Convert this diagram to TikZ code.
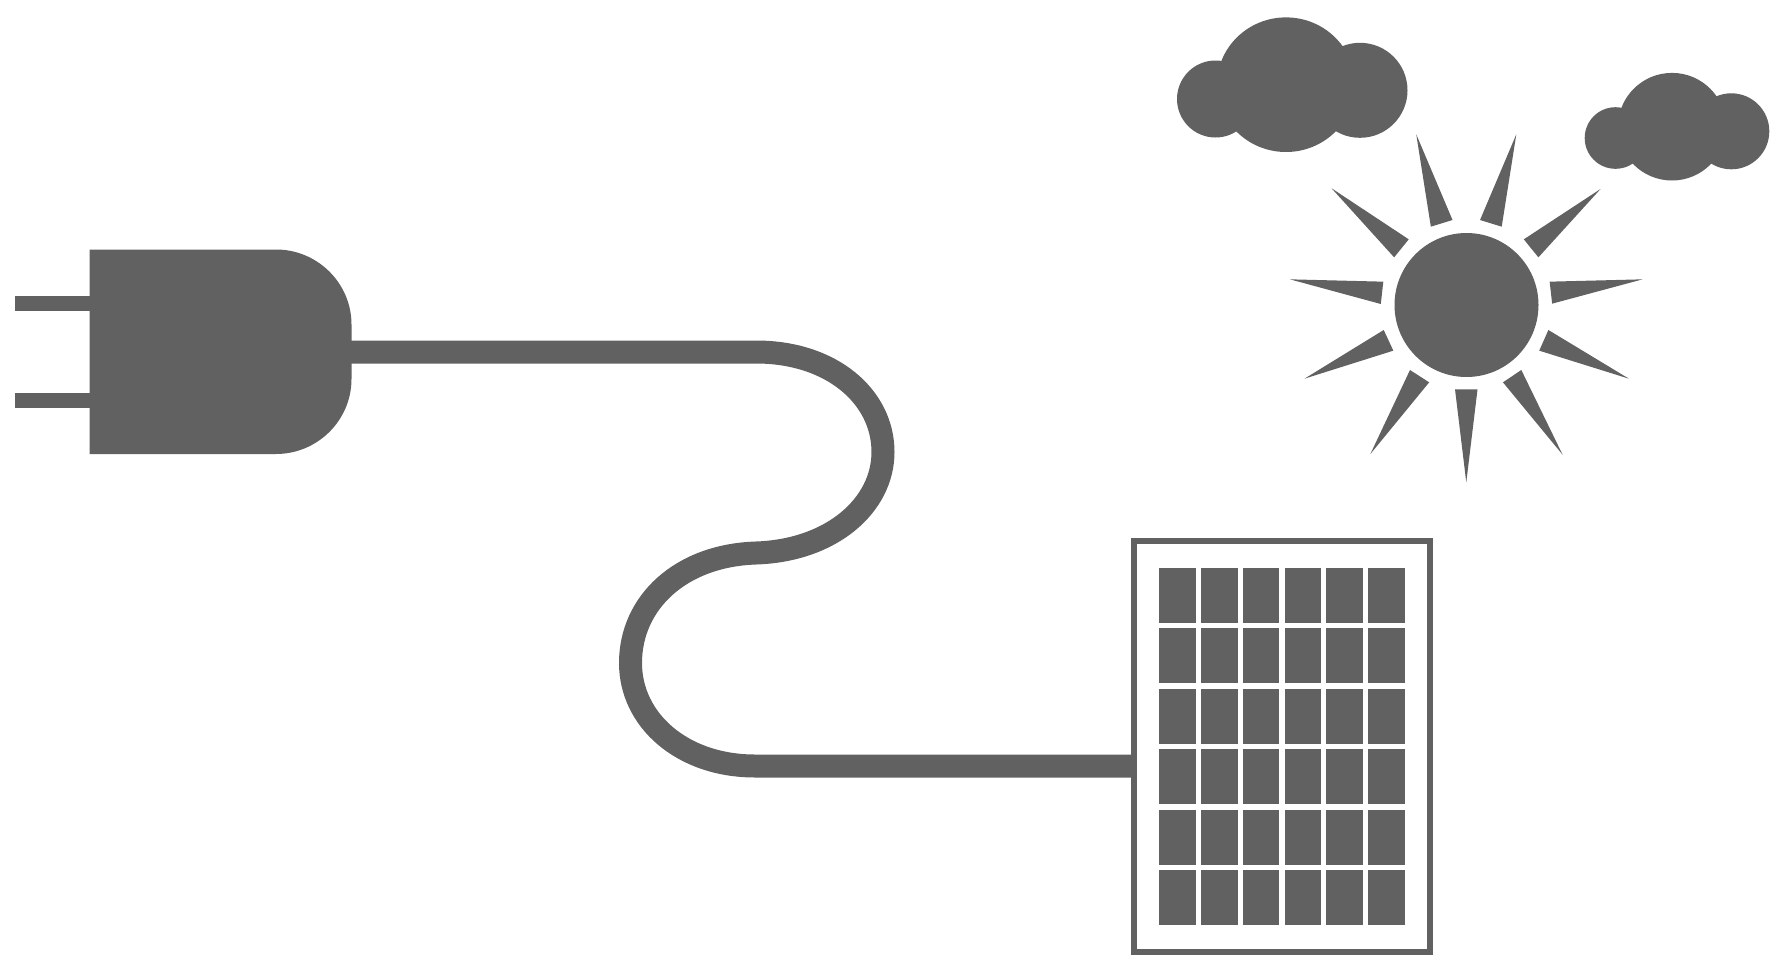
\documentclass[tikz,border=0pt]{standalone}
\definecolor{ink}{HTML}{616161}
\tikzset{
  solid ink/.style={fill=ink,draw=none},
  cable/.style={draw=ink,line width=23pt,line cap=butt},
  frame/.style={draw=ink,line width=5.6pt,fill=white,miter limit=10}
}
\begin{document}
\begin{tikzpicture}[x=1pt,y=-1pt]
\useasboundingbox (0,0) rectangle (1792,980);
\fill[white] (0,0) rectangle (1792,980);
% connection points
\coordinate (plugout) at (345,352);
\coordinate (panelin) at (1134,766);
% cable
\draw[cable] (plugout) -- (756,352)
  .. controls (832,352) and (883,397) .. (883,452)
  .. controls (883,505) and (832,550.5) .. (756,553)
  .. controls (680,555.5) and (630.5,603) .. (630.5,663)
  .. controls (630.5,720) and (682,766) .. (755,766)
  -- (panelin);
% plug
\fill[solid ink] (14.5,295.5) rectangle (95,310.7);
\fill[solid ink] (14.5,393) rectangle (95,408.3);
\fill[solid ink] (89.5,249.5) -- (276,249.5)
  .. controls (317.4,249.5) and (351.5,283.1) .. (351.5,324.5) -- (351.5,379)
  .. controls (351.5,420.4) and (317.4,454) .. (276,454) -- (89.5,454) -- cycle;
% panel
\draw[frame] (1134.2,541.2) rectangle (1430.2,952);
\foreach \c in {0,...,5} \foreach \r in {0,...,5}
  \fill[solid ink] ({1159+41.87*\c},{568+60.4*\r}) rectangle ++(36.7,55);
% sun
\fill[solid ink] (1466.5,305) circle[radius=72pt];
% clouds
\fill[solid ink] (1215.5,99) circle[radius=38.5pt];
\fill[solid ink] (1360,90.3) circle[radius=47.5pt];
\fill[solid ink] (1286,84.7) circle[x radius=69pt,y radius=67.3pt];
\fill[solid ink] (1615.5,138) circle[radius=30.8pt];
\fill[solid ink] (1731.3,131.3) circle[radius=38pt];
\fill[solid ink] (1672,126.7) circle[x radius=54pt,y radius=53.8pt];
% rays, in a frame of their own
\begin{scope}[shift={(1139,0)},x=0.4169pt,y=-0.33333pt]
\foreach \ax/\ay/\bx/\by/\cx/\cy in {
  665/403/700/680/752/660,
  905/403/818/660/870/680,
  462/565/612/772/647/718,
  1107/567/923/718/958/772,
  362/838/586/845/580/912,
  1208/838/985/845/991/911,
  397/1136/587/990/610/1052,
  1175/1136/982/990/960/1052,
  555/1362/650/1110/696/1147,
  1016/1364/917/1110/873/1147,
  785/1447/758/1168/812/1168}
  \fill[solid ink] (\ax,\ay) -- (\bx,\by) -- (\cx,\cy) -- cycle;
\end{scope}
\end{tikzpicture}
\end{document}
